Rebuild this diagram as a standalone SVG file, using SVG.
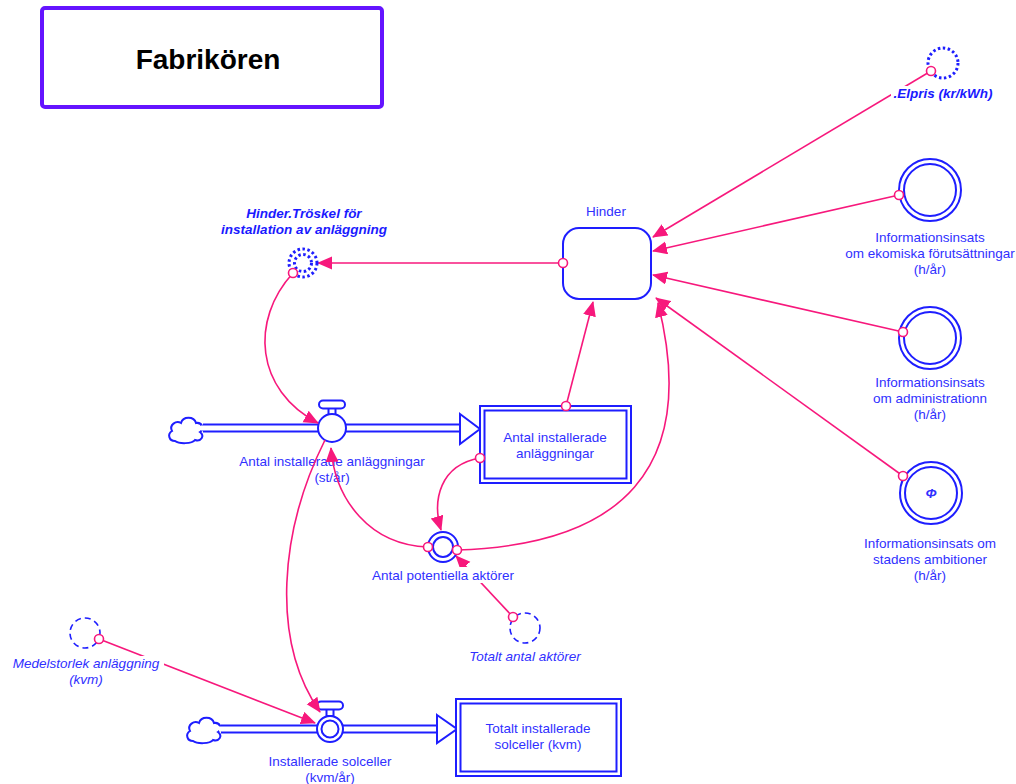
<svg xmlns="http://www.w3.org/2000/svg" width="1016" height="784" viewBox="0 0 1016 784">
  <style>
    text { font-family: "Liberation Sans", Arial, sans-serif; font-size: 13.5px; fill: #3030ff; text-anchor: middle; }
    .title { font-size: 28px; font-weight: bold; fill: #000; }
    .ghost { font-weight: bold; font-style: italic; fill: #1a1aff; }
    .ital { font-style: italic; }
    .shape { fill: #fff; stroke: #1e1eff; stroke-width: 2; }
    .pipe-out { fill: none; stroke: #1e1eff; stroke-width: 9; }
    .pipe-in { fill: none; stroke: #fff; stroke-width: 5; }
    .link { fill: none; stroke: #f7187c; stroke-width: 1.6; marker-end: url(#arrow); }
    .tail { fill: #fff; stroke: #f7187c; stroke-width: 1.6; }
    .dashed { fill: #fff; stroke: #1e1eff; stroke-width: 1.6; stroke-dasharray: 6 4; }
    .dotted { fill: none; stroke: #1e1eff; stroke-width: 3; stroke-dasharray: 2.5 2.5; }
    .bg { fill: #fff; }
  </style>
  <defs>
    <marker id="arrow" markerUnits="userSpaceOnUse" markerWidth="16" markerHeight="14" refX="14" refY="6.5" orient="auto">
      <path d="M0,0 L15,6.5 L0,13 z" fill="#f7187c"/>
    </marker>
    <path id="cloud" class="shape" d="M-11,12 C-17,12 -19,5 -14,2 C-17,-4 -10,-9 -5,-6 C-3,-13 8,-13 10,-6 C16,-7 19,0 14,3 C19,7 15,13 9,11 C6,15 -7,15 -11,12 Z"/>
  </defs>

  <!-- title -->
  <g id="title">
    <rect x="42" y="8" width="340" height="99" rx="3" fill="#fff" stroke="#6414ff" stroke-width="4"/>
    <text class="title" x="208" y="69">Fabrikören</text>
  </g>

  <!-- flow pipes -->
  <g id="flow-anlaggningar">
    <use href="#cloud" x="186" y="429"/>
    <path class="pipe-out" d="M203,428 H461"/>
    <path class="pipe-in" d="M201,428 H462"/>
    <polygon class="shape" points="460,414 480,429 460,444"/>
    <rect class="shape" x="328.5" y="408" width="7" height="7"/>
    <rect class="shape" x="319" y="400.5" width="26" height="8" rx="4"/>
    <circle class="shape" cx="332" cy="428" r="14"/>
    <text x="332" y="466">Antal installerade anläggningar</text>
    <text x="332" y="482">(st/år)</text>
  </g>

  <g id="flow-solceller">
    <use href="#cloud" x="204" y="729"/>
    <path class="pipe-out" d="M221,729 H438"/>
    <path class="pipe-in" d="M219,729 H439"/>
    <polygon class="shape" points="437,715 457,729 437,743"/>
    <rect class="shape" x="326.5" y="708" width="7" height="8"/>
    <rect class="shape" x="317" y="701.5" width="26" height="8" rx="4"/>
    <circle class="shape" cx="330" cy="729" r="13"/>
    <circle class="shape" cx="330" cy="729" r="8.5"/>
    <text x="330" y="766">Installerade solceller</text>
    <text x="330" y="782">(kvm/år)</text>
  </g>

  <!-- connectors -->
  <g id="connectors">
    <path class="link" d="M931,71 L653,237"/>
    <path class="link" d="M899,195 L653,251"/>
    <path class="link" d="M903,332 L653,275"/>
    <path class="link" d="M903,476 L656,298"/>
    <path class="link" d="M563,263 L318,263"/>
    <path class="link" d="M293,273 C250,320 255,390 318,423"/>
    <path class="link" d="M566,406 L593,302"/>
    <path class="link" d="M480,458 C440,465 432,500 441,530"/>
    <path class="link" d="M428,547 C370,545 335,500 331,448"/>
    <path class="link" d="M457,550 C620,545 700,470 658,303"/>
    <path class="link" d="M513,617 L456,556"/>
    <path class="link" d="M325,440 C280,530 270,640 320,712"/>
    <path class="link" d="M99,639 L315,723"/>
  </g>

  <!-- nodes -->
  <g id="hinder">
    <rect class="shape" x="563" y="228" width="88" height="71" rx="16"/>
    <text x="606" y="216">Hinder</text>
    <circle class="tail" cx="563" cy="263" r="4.5"/>
  </g>

  <g id="troskel">
    <circle class="dotted" cx="303" cy="263" r="14"/>
    <circle class="dotted" cx="303" cy="263" r="8.5" stroke-width="2.5"/>
    <text class="ghost" x="304" y="218">Hinder.Tröskel för</text>
    <text class="ghost" x="304" y="234">installation av anläggning</text>
    <circle class="tail" cx="293" cy="273" r="4.5"/>
  </g>

  <g id="elpris">
    <circle class="dotted" cx="943" cy="63" r="15"/>
    <rect class="bg" x="891" y="86" width="104" height="16"/>
    <text class="ghost" x="943" y="98">.Elpris (kr/kWh)</text>
    <circle class="tail" cx="931" cy="71" r="4.5"/>
  </g>

  <g id="info-ekonomi">
    <circle class="shape" cx="930" cy="190" r="31"/>
    <circle class="shape" cx="930" cy="190" r="26"/>
    <text x="930" y="242">Informationsinsats</text>
    <text x="930" y="258">om ekomiska förutsättningar</text>
    <text x="930" y="274">(h/år)</text>
    <circle class="tail" cx="899" cy="195" r="4.5"/>
  </g>

  <g id="info-administration">
    <circle class="shape" cx="930" cy="338" r="31"/>
    <circle class="shape" cx="930" cy="338" r="26"/>
    <text x="930" y="387">Informationsinsats</text>
    <text x="930" y="403">om administrationn</text>
    <text x="930" y="419">(h/år)</text>
    <circle class="tail" cx="903" cy="332" r="4.5"/>
  </g>

  <g id="info-ambitioner">
    <circle class="shape" cx="931" cy="493" r="31"/>
    <circle class="shape" cx="931" cy="493" r="26"/>
    <text x="931" y="498" class="ital" style="font-weight:bold">Φ</text>
    <text x="930" y="548">Informationsinsats om</text>
    <text x="930" y="564">stadens ambitioner</text>
    <text x="930" y="580">(h/år)</text>
    <circle class="tail" cx="903" cy="476" r="4.5"/>
  </g>

  <g id="stock-anlaggningar">
    <rect class="shape" x="480" y="406" width="151" height="77"/>
    <rect class="shape" x="484.5" y="410.5" width="142" height="68"/>
    <text x="555" y="442">Antal installerade</text>
    <text x="555" y="458">anläggningar</text>
    <circle class="tail" cx="566" cy="406" r="4.5"/>
    <circle class="tail" cx="480" cy="458" r="4.5"/>
  </g>

  <g id="potentiella">
    <circle class="shape" cx="443" cy="547" r="15"/>
    <circle class="shape" cx="443" cy="547" r="10"/>
    <rect class="bg" x="369" y="567" width="148" height="16"/>
    <text x="443" y="580">Antal potentiella aktörer</text>
    <circle class="tail" cx="428" cy="547" r="4.5"/>
    <circle class="tail" cx="457" cy="550" r="4.5"/>
  </g>

  <g id="totalt-aktorer">
    <circle class="dashed" cx="525" cy="628" r="15"/>
    <text class="ital" x="525" y="661">Totalt antal aktörer</text>
    <circle class="tail" cx="513" cy="617" r="4.5"/>
  </g>

  <g id="medelstorlek">
    <circle class="dashed" cx="85" cy="633" r="15"/>
    <rect class="bg" x="10" y="656" width="154" height="30"/>
    <text class="ital" x="86" y="668">Medelstorlek anläggning</text>
    <text class="ital" x="86" y="684">(kvm)</text>
    <circle class="tail" cx="99" cy="639" r="4.5"/>
  </g>

  <g id="stock-solceller">
    <rect class="shape" x="456" y="699" width="165" height="77"/>
    <rect class="shape" x="460.5" y="703.5" width="156" height="68"/>
    <text x="538" y="733">Totalt installerade</text>
    <text x="538" y="749">solceller (kvm)</text>
  </g>
</svg>
